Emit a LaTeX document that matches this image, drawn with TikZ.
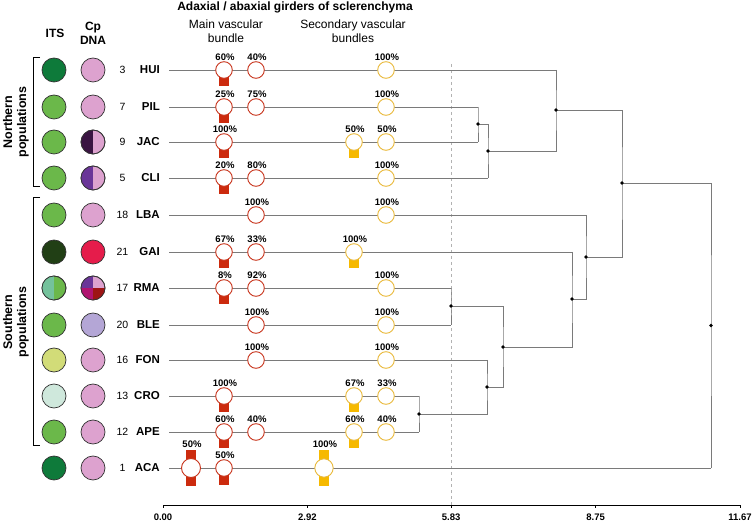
\documentclass[tikz,border=0pt]{standalone}
\usepackage{fontspec}
\setmainfont{Liberation Sans}
\pgfdeclarelayer{bg}
\pgfsetlayers{bg,main}
\definecolor{itsdark}{HTML}{0E7A3A}
\definecolor{itsgreen}{HTML}{6BB84A}
\definecolor{itsvdark}{HTML}{213F15}
\definecolor{itsteal}{HTML}{74C29C}
\definecolor{itsyel}{HTML}{D2DC78}
\definecolor{itspale}{HTML}{CFE8DC}
\definecolor{cppink}{HTML}{DDA2CF}
\definecolor{cpdkpurp}{HTML}{3A1442}
\definecolor{cppurp}{HTML}{6A3598}
\definecolor{cpred}{HTML}{E51C4B}
\definecolor{cpmag}{HTML}{B01470}
\definecolor{cpdred}{HTML}{9E1515}
\definecolor{cplav}{HTML}{B4A6D6}
\definecolor{redc}{HTML}{C8341C}
\definecolor{redsq}{HTML}{CC2B0E}
\definecolor{yelc}{HTML}{E9B93A}
\definecolor{yelsq}{HTML}{F6B900}
\definecolor{linegray}{HTML}{7A7A7A}
\newcommand\gd[6]{%
  \node[#2] (#1) at (#3,#4) {};
  \node[pct] (#1-p) at ([xshift=1pt,yshift=#6pt]#1.center) {#5};
}
\newcommand\sqb[2]{\begin{pgfonlayer}{bg}\fill[#2] ([xshift=-5.3pt,yshift=-5pt]#1.center) rectangle ([xshift=5.3pt,yshift=-16.5pt]#1.center);\end{pgfonlayer}}
\newcommand\sqbb[2]{\begin{pgfonlayer}{bg}\fill[#2] ([xshift=-5pt,yshift=-8pt]#1.center) rectangle ([xshift=5pt,yshift=-18pt]#1.center);\end{pgfonlayer}}
\newcommand\sqtt[2]{\begin{pgfonlayer}{bg}\fill[#2] ([xshift=-5pt,yshift=8pt]#1.center) rectangle ([xshift=5pt,yshift=18pt]#1.center);\end{pgfonlayer}}
% fill a quadrant-aligned rectangle of a circle node: #1 node, #2 colour, #3 x1 #4 y1 #5 x2 #6 y2 (canvas shifts)
\newcommand\cpart[6]{%
  \begin{scope}
    \clip (#1.center) circle (12);
    \fill[#2] ([xshift=#3pt,yshift=#4pt]#1.center) rectangle ([xshift=#5pt,yshift=#6pt]#1.center);
  \end{scope}}
\begin{document}
\begin{tikzpicture}[x=1pt,y=-1pt,
  its/.style={circle, draw=black!80, line width=0.7pt, minimum size=24pt, inner sep=0pt},
  rc/.style={circle, draw=redc, fill=white, line width=0.9pt, minimum size=16.6pt, inner sep=0pt},
  yc/.style={circle, draw=yelc, fill=white, line width=0.9pt, minimum size=16.6pt, inner sep=0pt},
  rcb/.style={rc, minimum size=19pt},
  ycb/.style={yc, minimum size=18.4pt},
  pct/.style={font=\fontsize{9.5}{10}\selectfont\bfseries, inner sep=0pt},
  num/.style={font=\fontsize{10.5}{12}\selectfont, inner sep=0pt},
  nm/.style={font=\fontsize{11.5}{12}\selectfont\bfseries, anchor=east, inner sep=0pt},
  hdr/.style={font=\fontsize{12}{14}\selectfont\bfseries, align=center, inner sep=0pt},
  sub/.style={font=\fontsize{12}{14}\selectfont, align=center, inner sep=0pt},
  grp/.style={font=\fontsize{12.5}{14}\selectfont\bfseries, align=center, rotate=90, inner sep=0pt},
  rowline/.style={draw=linegray, line width=0.8pt},
  dend/.style={draw=linegray, line width=0.8pt},
  dot/.style={fill=black},
  axis/.style={draw=black, line width=1pt},
  axlbl/.style={font=\fontsize{9.5}{10}\selectfont\bfseries, inner sep=0pt},
  ring/.style={draw=black!80, line width=0.7pt}
]
\useasboundingbox (0,0) rectangle (753,521);

% headers
\node[hdr] (title) at (295,7) {Adaxial / abaxial girders of sclerenchyma};
\node[sub] (mainhdr) at (226,31) {Main vascular\\bundle};
\node[sub] (sechdr) at (353,31) {Secondary vascular\\bundles};
\node[hdr] (itshdr) at (55,33) {ITS};
\node[hdr] (cphdr) at (93,33) {Cp\\DNA};

% group brackets
\coordinate (nb1) at (40,58); \coordinate (nb2) at (33,58);
\coordinate (nb3) at (33,187); \coordinate (nb4) at (40,187);
\draw[line width=1pt] (nb1) -- (nb2) -- (nb3) -- (nb4);
\coordinate (sb1) at (40,198); \coordinate (sb2) at (33,198);
\coordinate (sb3) at (33,446); \coordinate (sb4) at (40,446);
\draw[line width=1pt] (sb1) -- (sb2) -- (sb3) -- (sb4);
\node[grp] (northlbl) at (16,122) {Northern\\populations};
\node[grp] (southlbl) at (16,322) {Southern\\populations};

% ITS circles
\node[its, fill=itsdark] (hui-its) at (54,70) {};
\node[its, fill=itsgreen] (pil-its) at (54,107) {};
\node[its, fill=itsgreen] (jac-its) at (54,142) {};
\node[its, fill=itsgreen] (cli-its) at (54,178) {};
\node[its, fill=itsgreen] (lba-its) at (54,215) {};
\node[its, fill=itsvdark] (gai-its) at (54,252) {};
\node[its, fill=itsgreen] (rma-its) at (54,288) {};
\node[its, fill=itsgreen] (ble-its) at (54,325) {};
\node[its, fill=itsyel] (fon-its) at (54,360) {};
\node[its, fill=itspale] (cro-its) at (54,396) {};
\node[its, fill=itsgreen] (ape-its) at (54,432) {};
\node[its, fill=itsdark] (aca-its) at (54,468) {};
\cpart{rma-its}{itsteal}{-13}{13}{0}{-13}
\draw[ring] (rma-its.center) circle (12);

% Cp DNA circles
\node[its, fill=cppink] (hui-cp) at (93,70) {};
\node[its, fill=cppink] (pil-cp) at (93,107) {};
\node[its, fill=cppink] (jac-cp) at (93,142) {};
\node[its, fill=cppink] (cli-cp) at (93,178) {};
\node[its, fill=cppink] (lba-cp) at (93,215) {};
\node[its, fill=cpred] (gai-cp) at (93,252) {};
\node[its, fill=cppink] (rma-cp) at (93,288) {};
\node[its, fill=cplav] (ble-cp) at (93,325) {};
\node[its, fill=cppink] (fon-cp) at (93,360) {};
\node[its, fill=cppink] (cro-cp) at (93,396) {};
\node[its, fill=cppink] (ape-cp) at (93,432) {};
\node[its, fill=cppink] (aca-cp) at (93,468) {};
\cpart{jac-cp}{cpdkpurp}{-13}{13}{0}{-13}
\draw[ring] (jac-cp.center) circle (12);
\cpart{cli-cp}{cppurp}{-13}{13}{0}{-13}
\draw[ring] (cli-cp.center) circle (12);
\cpart{rma-cp}{cppurp}{-13}{13}{0}{0}
\cpart{rma-cp}{cpmag}{-13}{0}{0}{-13}
\cpart{rma-cp}{cpdred}{0}{0}{13}{-13}
\draw[ring] (rma-cp.center) circle (12);

% numbers and names
\node[num] (hui-n) at (122.5,70) {3};
\node[num] (pil-n) at (122.5,107) {7};
\node[num] (jac-n) at (122.5,142) {9};
\node[num] (cli-n) at (122.5,178) {5};
\node[num] (lba-n) at (122.5,215) {18};
\node[num] (gai-n) at (122.5,252) {21};
\node[num] (rma-n) at (122.5,288) {17};
\node[num] (ble-n) at (122.5,325) {20};
\node[num] (fon-n) at (122.5,360) {16};
\node[num] (cro-n) at (122.5,396) {13};
\node[num] (ape-n) at (122.5,432) {12};
\node[num] (aca-n) at (122.5,468) {1};
\node[nm] (hui) at (160,70) {HUI};
\node[nm] (pil) at (160,107) {PIL};
\node[nm] (jac) at (160,142) {JAC};
\node[nm] (cli) at (160,178) {CLI};
\node[nm] (lba) at (160,215) {LBA};
\node[nm] (gai) at (160,252) {GAI};
\node[nm] (rma) at (160,288) {RMA};
\node[nm] (ble) at (160,325) {BLE};
\node[nm] (fon) at (160,360) {FON};
\node[nm] (cro) at (160,396) {CRO};
\node[nm] (ape) at (160,432) {APE};
\node[nm] (aca) at (160,468) {ACA};

% leaf ends
\coordinate (eHUI) at (556,70);
\coordinate (ePIL) at (478,107);
\coordinate (eJAC) at (478,142);
\coordinate (eCLI) at (488,178);
\coordinate (eLBA) at (586,215);
\coordinate (eGAI) at (572,252);
\coordinate (eRMA) at (451,288);
\coordinate (eBLE) at (451,325);
\coordinate (eFON) at (487,360);
\coordinate (eCRO) at (419,396);
\coordinate (eAPE) at (419,432);
\coordinate (eACA) at (711,468);
% internal nodes
\coordinate (n1) at (478,124);
\coordinate (n2) at (488,151);
\coordinate (n3) at (556,110);
\coordinate (n4) at (622,183);
\coordinate (root) at (711,325.5);
\coordinate (n5) at (451,306);
\coordinate (n6) at (419,414);
\coordinate (n7) at (487,387);
\coordinate (n8) at (503,347);
\coordinate (n9) at (572,299);
\coordinate (n10) at (586,257);

% cut line
\coordinate (cuttop) at (451,64);
\coordinate (cutbot) at (451,505);
\begin{pgfonlayer}{bg}
\draw[gray!60, dashed, line width=0.7pt] (cuttop) -- (cutbot);
\draw[rowline] ([xshift=9pt]hui.east) -- (eHUI);
\draw[rowline] ([xshift=9pt]pil.east) -- (ePIL);
\draw[rowline] ([xshift=9pt]jac.east) -- (eJAC);
\draw[rowline] ([xshift=9pt]cli.east) -- (eCLI);
\draw[rowline] ([xshift=9pt]lba.east) -- (eLBA);
\draw[rowline] ([xshift=9pt]gai.east) -- (eGAI);
\draw[rowline] ([xshift=9pt]rma.east) -- (eRMA);
\draw[rowline] ([xshift=9pt]ble.east) -- (eBLE);
\draw[rowline] ([xshift=9pt]fon.east) -- (eFON);
\draw[rowline] ([xshift=9pt]cro.east) -- (eCRO);
\draw[rowline] ([xshift=9pt]ape.east) -- (eAPE);
\draw[rowline] ([xshift=9pt]aca.east) -- (eACA);
\end{pgfonlayer}

% dendrogram
\draw[dend] (ePIL) -| (n1) |- (eJAC);
\draw[dend] (n1) -| (n2) |- (eCLI);
\draw[dend] (eHUI) -| (n3) |- (n2);
\draw[dend] (n3) -| (n4) |- (n10);
\draw[dend] (n4) -| (root) |- (eACA);
\draw[dend] (eRMA) -| (n5) |- (eBLE);
\draw[dend] (eCRO) -| (n6) |- (eAPE);
\draw[dend] (eFON) -| (n7) |- (n6);
\draw[dend] (n5) -| (n8) |- (n7);
\draw[dend] (eGAI) -| (n9) |- (n8);
\draw[dend] (eLBA) -| (n10) |- (n9);
\foreach \n in {n1,n2,n3,n4,root,n5,n6,n7,n8,n9,n10}
  \fill[dot] (\n) circle (1.9);

% girders
\gd{hui-m1}{rc}{224}{70}{60\%}{13} \sqb{hui-m1}{redsq}
\gd{hui-m2}{rc}{256}{70}{40\%}{13}
\gd{hui-s2}{yc}{386}{70}{100\%}{13}

\gd{pil-m1}{rc}{224}{107}{25\%}{13} \sqb{pil-m1}{redsq}
\gd{pil-m2}{rc}{256}{107}{75\%}{13}
\gd{pil-s2}{yc}{386}{107}{100\%}{13}

\gd{jac-m1}{rc}{224}{142}{100\%}{13} \sqb{jac-m1}{redsq}
\gd{jac-s1}{yc}{354}{142}{50\%}{13} \sqb{jac-s1}{yelsq}
\gd{jac-s2}{yc}{386}{142}{50\%}{13}

\gd{cli-m1}{rc}{224}{178}{20\%}{13} \sqb{cli-m1}{redsq}
\gd{cli-m2}{rc}{256}{178}{80\%}{13}
\gd{cli-s2}{yc}{386}{178}{100\%}{13}

\gd{lba-m2}{rc}{256}{215}{100\%}{13}
\gd{lba-s2}{yc}{386}{215}{100\%}{13}

\gd{gai-m1}{rc}{224}{252}{67\%}{13} \sqb{gai-m1}{redsq}
\gd{gai-m2}{rc}{256}{252}{33\%}{13}
\gd{gai-s1}{yc}{354}{252}{100\%}{13} \sqb{gai-s1}{yelsq}

\gd{rma-m1}{rc}{224}{288}{8\%}{13} \sqb{rma-m1}{redsq}
\gd{rma-m2}{rc}{256}{288}{92\%}{13}
\gd{rma-s2}{yc}{386}{288}{100\%}{13}

\gd{ble-m2}{rc}{256}{325}{100\%}{13}
\gd{ble-s2}{yc}{386}{325}{100\%}{13}

\gd{fon-m2}{rc}{256}{360}{100\%}{13}
\gd{fon-s2}{yc}{386}{360}{100\%}{13}

\gd{cro-m1}{rc}{224}{396}{100\%}{13} \sqb{cro-m1}{redsq}
\gd{cro-s1}{yc}{354}{396}{67\%}{13} \sqb{cro-s1}{yelsq}
\gd{cro-s2}{yc}{386}{396}{33\%}{13}

\gd{ape-m1}{rc}{224}{432}{60\%}{13} \sqb{ape-m1}{redsq}
\gd{ape-m2}{rc}{256}{432}{40\%}{13}
\gd{ape-s1}{yc}{354}{432}{60\%}{13} \sqb{ape-s1}{yelsq}
\gd{ape-s2}{yc}{386}{432}{40\%}{13}

\gd{aca-m0}{rcb}{191}{468}{50\%}{24} \sqtt{aca-m0}{redsq} \sqbb{aca-m0}{redsq}
\gd{aca-m1}{rc}{224}{468}{50\%}{13} \sqb{aca-m1}{redsq}
\gd{aca-s0}{ycb}{324}{468}{100\%}{24} \sqtt{aca-s0}{yelsq} \sqbb{aca-s0}{yelsq}

% axis
\coordinate (ax0) at (163,505);
\coordinate (ax1) at (740,505);
\draw[axis] (ax0) -- (ax1);
\foreach \xx/\lab/\nm in {163/0.00/t0, 307.4/2.92/t1, 451.2/5.83/t2, 595.6/8.75/t3, 740/11.67/t4}{
  \coordinate (\nm) at (\xx,505);
  \draw[axis] (\nm) -- ++(0,3);
  \node[axlbl] (\nm-l) at (\xx,517) {\lab};
}
\end{tikzpicture}
\end{document}
